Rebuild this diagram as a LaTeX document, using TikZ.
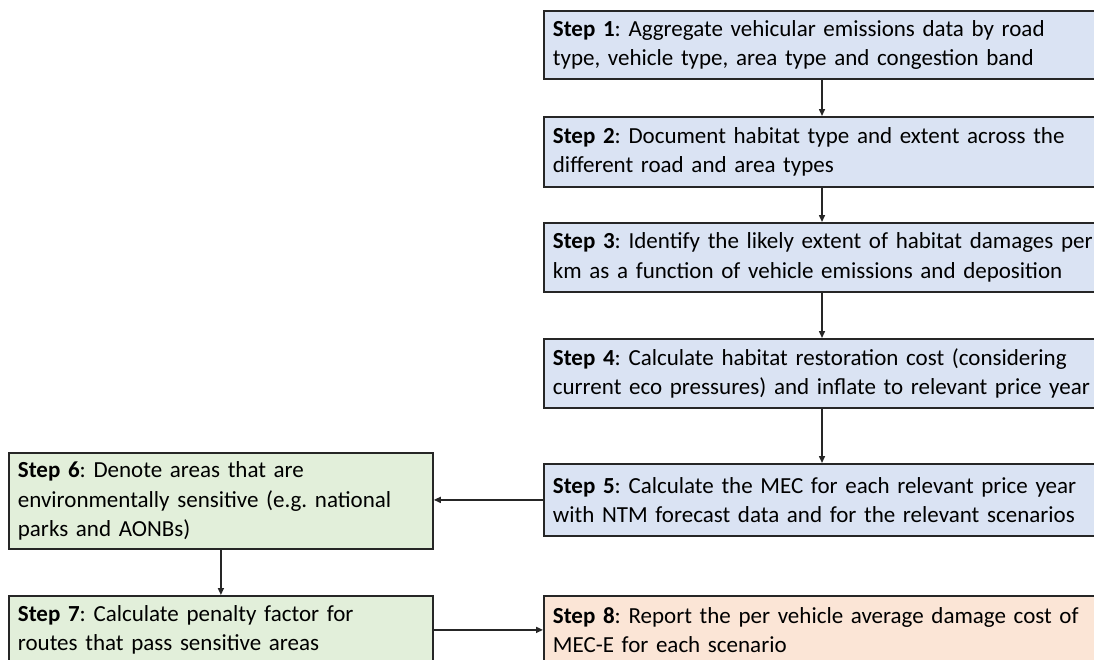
\documentclass[tikz,border=0pt]{standalone}
\usepackage{fontspec}
\setmainfont{Carlito}
\usetikzlibrary{arrows.meta}
\definecolor{stepblue}{HTML}{DAE3F3}
\definecolor{stepgreen}{HTML}{E2EFDA}
\definecolor{steppeach}{HTML}{FBE5D6}
\definecolor{edge}{HTML}{262626}
\begin{document}
\frenchspacing
\begin{tikzpicture}[x=1pt,y=-1pt,
  stepbox/.style={draw=edge, line width=1.8pt, anchor=north west, align=left,
    inner xsep=9pt, inner ysep=0pt,
    font=\fontsize{23}{29.5}\selectfont},
  rbox/.style={stepbox, fill=stepblue, text width=570pt},
  lbox/.style={stepbox, fill=stepgreen, text width=406pt},
  arr/.style={draw=edge, line width=1.5pt, -{Triangle[length=7pt,width=6pt]}}]
  \useasboundingbox (0,0) rectangle (1094,659);
  \clip (0,0) rectangle (1094,659);
  \fill[white] (0,0) rectangle (1094,659);

  % main column (right), runs past the right edge
  \node[rbox, minimum height=68pt] (s1) at (543,10)
    {\textbf{Step 1}: Aggregate vehicular emissions data by road\\type, vehicle type, area type and congestion band};
  \node[rbox, minimum height=70pt] (s2) at (543,116)
    {\textbf{Step 2}: Document habitat type and extent across the\\different road and area types};
  \node[rbox, minimum height=69pt] (s3) at (543,222)
    {\textbf{Step 3}: Identify the likely extent of habitat damages per\\km as a function of vehicle emissions and deposition};
  \node[rbox, minimum height=69pt] (s4) at (543,338)
    {\textbf{Step 4}: Calculate habitat restoration cost (considering\\current eco pressures) and inflate to relevant price year};
  \node[rbox, minimum height=72pt] (s5) at (543,463)
    {\textbf{Step 5}: Calculate the MEC for each relevant price year\\with NTM forecast data and for the relevant scenarios};
  \node[rbox, fill=steppeach, minimum height=68pt] (s8) at (543,595)
    {\textbf{Step 8}: Report the per vehicle average damage cost of\\MEC-E for each scenario};

  % side branch (left)
  \node[lbox, minimum height=96pt] (s6) at (8,452)
    {\textbf{Step 6}: Denote areas that are\\environmentally sensitive (e.g. national\\parks and AONBs)};
  \node[lbox, minimum height=68pt] (s7) at (8,595)
    {\textbf{Step 7}: Calculate penalty factor for\\routes that pass sensitive areas};

  % connectors
  \coordinate (col) at (822,0);
  \draw[arr] (s1.south -| col) -- (s2.north -| col);
  \draw[arr] (s2.south -| col) -- (s3.north -| col);
  \draw[arr] (s3.south -| col) -- (s4.north -| col);
  \draw[arr] (s4.south -| col) -- (s5.north -| col);
  \draw[arr] (s5.west) -- (s5.west -| s6.east);
  \draw[arr] (s6.south) -- (s7.north);
  \draw[arr] (s7.east) -- (s8.west);
\end{tikzpicture}
\end{document}
